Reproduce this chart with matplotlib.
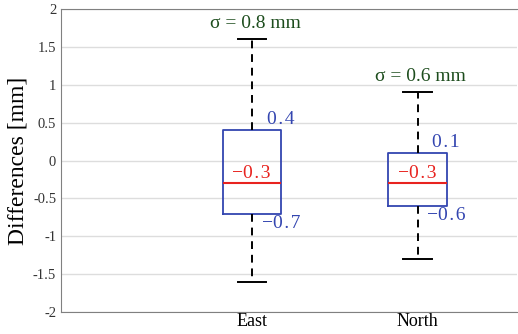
import matplotlib
matplotlib.use("Agg")
import matplotlib.pyplot as plt

plt.rcParams['font.family'] = ['Liberation Serif', 'DejaVu Serif']
plt.rcParams['axes.unicode_minus'] = False

# box statistics [mm]
labels = ['East', 'North']
whislo = [-1.6, -1.3]
q1 = [-0.7, -0.6]
med = [-0.3, -0.3]
q3 = [0.4, 0.1]
whishi = [1.6, 0.9]
sigma = [0.8, 0.6]

yticks = [-2, -1.5, -1, -0.5, 0, 0.5, 1, 1.5, 2]
ytick_labels = ['-2', '-1.5', '-1', '-0.5', '0', '0.5', '1', '1.5', '2']

blue = '#3345b0'
red = '#e8231f'
green = '#1d4d1d'

def fmt(v):
    # numbers in the original are letter-spaced around the point
    s = '%.1f' % abs(v)
    s = s.replace('.', '\u200a.\u200a')
    if v < 0:
        s = '\u2212' + s
    return s

fig = plt.figure(figsize=(5.18, 3.34), dpi=100)
ax = fig.add_axes([61/518, 22/334, 456/518, 303/334])

stats = []
for ii in range(len(labels)):
    stats.append({'label': labels[ii], 'whislo': whislo[ii], 'q1': q1[ii],
                  'med': med[ii], 'q3': q3[ii], 'whishi': whishi[ii]})

pos = [1, 2]
ax.bxp(stats, positions=pos, widths=0.35, showfliers=False,
       boxprops=dict(color=blue, linewidth=1.3),
       medianprops=dict(color=red, linewidth=1.5),
       whiskerprops=dict(color='black', linestyle=(0, (4, 3)), linewidth=1.4),
       capprops=dict(color='black', linewidth=1.4), capwidths=0.17)

for ii in range(len(labels)):
    x = pos[ii]
    ax.text(x + 0.02, whishi[ii] + 0.1, '\u03c3 = %.1f mm' % sigma[ii], color=green,
            fontsize=14, ha='center', va='bottom')
    ax.text(x + 0.09, q3[ii] + 0.03, fmt(q3[ii]), color=blue,
            fontsize=14, ha='left', va='bottom')
    ax.text(x + 0.06, q1[ii] - 0.02, fmt(q1[ii]), color=blue,
            fontsize=14, ha='left', va='top')
    ax.text(x, med[ii] + 0.02, fmt(med[ii]), color=red,
            fontsize=14, ha='center', va='bottom')

ax.set_xlim(-0.15, 2.6)
ax.set_ylim(-2, 2)
ax.set_yticks(yticks)
ax.set_yticklabels(ytick_labels, fontsize=10.5, color='#333333')
ax.set_xticks(pos)
ax.set_xticklabels(labels, fontsize=13)
ax.tick_params(length=0)
ax.tick_params(axis='x', pad=1)
ax.set_ylabel('Differences [mm]', fontsize=17, labelpad=3)
ax.yaxis.grid(True, color='#dddddd', linewidth=1)
ax.set_axisbelow(True)
for s in ['left', 'top', 'bottom']:
    ax.spines[s].set_color('#808080')
ax.spines['right'].set_visible(False)

fig.savefig('out.png', dpi=100)
